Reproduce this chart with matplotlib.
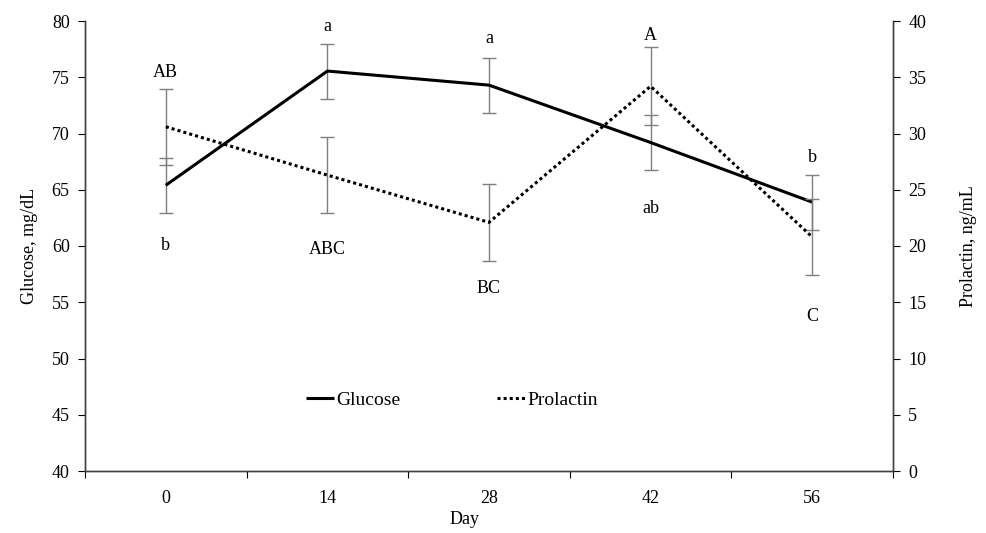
import matplotlib
matplotlib.use("Agg")
import matplotlib.pyplot as plt

plt.rcParams['font.family'] = ['Liberation Serif', 'DejaVu Serif']
plt.rcParams['font.size'] = 13

days = ["0", "14", "28", "42", "56"]
glucose = [65.4, 75.55, 74.3, 69.2, 63.9]
glucose_se = [2.45, 2.45, 2.45, 2.45, 2.45]
prolactin = [30.6, 26.3, 22.1, 34.2, 20.8]
prolactin_se = [3.4, 3.4, 3.45, 3.45, 3.35]

glu_letters = ["b", "a", "a", "ab", "b"]
glu_letter_y = [60.0, 79.5, 78.4, 63.3, 67.9]
pro_letters = ["AB", "ABC", "BC", "A", "C"]
pro_letter_y = [35.4, 19.7, 16.2, 38.7, 13.7]

x = list(range(len(days)))

fig = plt.figure(figsize=(9.87, 5.33), dpi=100)
ax = fig.add_axes([85 / 987, 1 - 471 / 533, 808 / 987, 450 / 533])
ax2 = ax.twinx()

# error bars first, lines on top
ax.errorbar(x, glucose, yerr=glucose_se, fmt="none", ecolor="#7f7f7f",
            elinewidth=1, capsize=5, capthick=1, zorder=2)
ax2.errorbar(x, prolactin, yerr=prolactin_se, fmt="none", ecolor="#7f7f7f",
             elinewidth=1, capsize=5, capthick=1, zorder=2)
l1, = ax.plot(x, glucose, color="black", lw=2.2, solid_capstyle="butt",
              label="Glucose", zorder=3)
l2, = ax2.plot(x, prolactin, color="black", lw=2.2, linestyle=(0, (1, 1)),
               label="Prolactin", zorder=3)

for i in x:
    ax.text(i, glu_letter_y[i], glu_letters[i], ha="center", va="center")
    ax2.text(i, pro_letter_y[i], pro_letters[i], ha="center", va="center")

ax.set_xlim(-0.5, len(days) - 0.5)
ax.set_ylim(40, 80)
ax2.set_ylim(0, 40)
ax.set_yticks(range(40, 81, 5))
ax2.set_yticks(range(0, 41, 5))

# category axis: ticks between categories, labels centered
ax.set_xticks([i - 0.5 for i in range(len(days) + 1)])
ax.set_xticklabels([])
ax.set_xticks(x, minor=True)
ax.set_xticklabels(days, minor=True)
ax.tick_params(axis="x", which="minor", length=0, pad=14)
ax.tick_params(axis="x", which="major", length=5, direction="out")
ax.tick_params(axis="y", length=5, direction="out", pad=6)
ax2.tick_params(axis="y", length=5, direction="out", pad=6)

for a in (ax, ax2):
    a.spines["top"].set_visible(False)
    for s in ("left", "right", "bottom"):
        a.spines[s].set_color("#404040")
        a.spines[s].set_linewidth(1)

ax.set_xlabel("Day")
ax.xaxis.set_label_coords(0.47, -0.09)
ax.set_ylabel("Glucose, mg/dL", labelpad=10)
ax2.set_ylabel("Prolactin, ng/mL", labelpad=24)

ax.legend([l1, l2], ["Glucose", "Prolactin"], ncol=2, frameon=False,
          loc="center", bbox_to_anchor=(0.454, 0.158), handlelength=1.45,
          handletextpad=0.1, columnspacing=5.0, fontsize=14)

fig.savefig("out.png", dpi=100)
